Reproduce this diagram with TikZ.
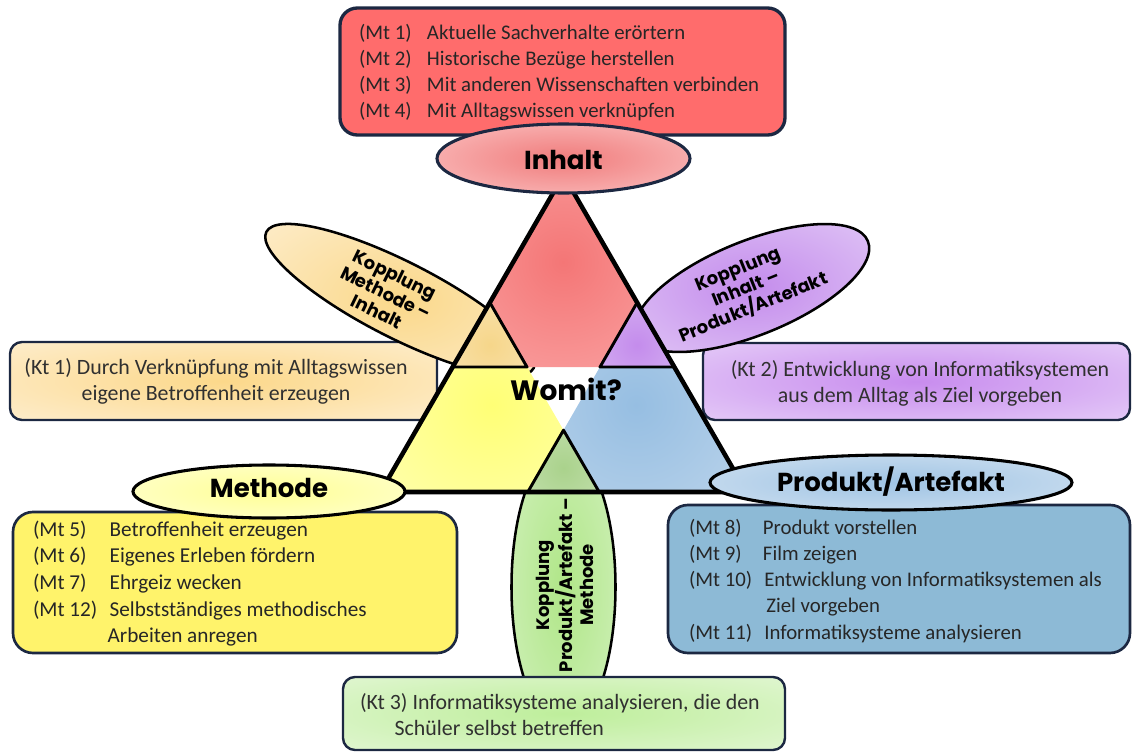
\documentclass[tikz,border=0pt]{standalone}
\usepackage{fontspec}
\setmainfont{Carlito}
\newfontfamily\headfont{Poppins}
\usetikzlibrary{shapes.geometric}

% outlines and text
\definecolor{navy}{RGB}{28,40,66}
\definecolor{bodytext}{RGB}{38,38,38}
\definecolor{ktgray}{RGB}{48,48,48}
% list boxes
\definecolor{redbox}{RGB}{255,108,108}
\definecolor{yellowbox}{RGB}{255,243,107}
\definecolor{bluebox}{RGB}{141,186,214}
% triangle parts
\definecolor{triRedIn}{RGB}{244,118,118}
\definecolor{triRedOut}{RGB}{255,196,196}
\definecolor{triYelIn}{RGB}{255,255,118}
\definecolor{triYelOut}{RGB}{255,255,214}
\definecolor{triBluIn}{RGB}{150,190,226}
\definecolor{triBluOut}{RGB}{214,228,241}
\definecolor{triOraIn}{RGB}{246,214,138}
\definecolor{triOraOut}{RGB}{251,236,205}
\definecolor{triPurIn}{RGB}{196,140,236}
\definecolor{triPurOut}{RGB}{226,204,246}
\definecolor{triGrnIn}{RGB}{170,210,140}
\definecolor{triGrnOut}{RGB}{216,236,202}
% ovals
\definecolor{ovRedIn}{RGB}{240,124,124}
\definecolor{ovRedOut}{RGB}{255,220,220}
\definecolor{ovYelIn}{RGB}{255,255,150}
\definecolor{ovYelOut}{RGB}{255,255,232}
\definecolor{ovBluIn}{RGB}{160,196,228}
\definecolor{ovBluOut}{RGB}{226,236,246}
\definecolor{ovOraIn}{RGB}{250,216,138}
\definecolor{ovOraOut}{RGB}{255,246,232}
\definecolor{ovPurIn}{RGB}{196,140,236}
\definecolor{ovPurOut}{RGB}{236,222,250}
\definecolor{ovGrnIn}{RGB}{176,230,136}
\definecolor{ovGrnOut}{RGB}{222,245,208}
% coupling text boxes
\definecolor{ktOraIn}{RGB}{252,216,138}
\definecolor{ktOraOut}{RGB}{254,245,230}
\definecolor{ktPurIn}{RGB}{200,140,238}
\definecolor{ktPurOut}{RGB}{239,226,251}
\definecolor{ktGrnIn}{RGB}{190,238,155}
\definecolor{ktGrnOut}{RGB}{237,249,229}

% radial glow that reaches its outer colour at the edge of the shaded path
\newcommand\glow[3]{\pgfdeclareradialshading{#1}{\pgfpointorigin}%
  {color(0bp)=(#2); color(50bp)=(#3); color(72bp)=(#3)}}
\glow{gTriRed}{triRedIn}{triRedOut}
\glow{gTriYel}{triYelIn}{triYelOut}
\glow{gTriBlu}{triBluIn}{triBluOut}
\glow{gTriOra}{triOraIn}{triOraOut}
\glow{gTriPur}{triPurIn}{triPurOut}
\glow{gTriGrn}{triGrnIn}{triGrnOut}
\glow{gOvRed}{ovRedIn}{ovRedOut}
\glow{gOvYel}{ovYelIn}{ovYelOut}
\glow{gOvBlu}{ovBluIn}{ovBluOut}
\glow{gOvOra}{ovOraIn}{ovOraOut}
\glow{gOvPur}{ovPurIn}{ovPurOut}
\glow{gOvGrn}{ovGrnIn}{ovGrnOut}
\glow{gKtOra}{ktOraIn}{ktOraOut}
\glow{gKtPur}{ktPurIn}{ktPurOut}
\glow{gKtGrn}{ktGrnIn}{ktGrnOut}

\newcommand\lab[2]{\makebox[#1][l]{#2}}

\begin{document}
\begin{tikzpicture}[x=0.75pt,y=-0.75pt,
  every node/.style={inner sep=0pt, outer sep=0pt},
  listbox/.style={rectangle, draw=navy, line width=2pt, rounded corners=15pt},
  glowbox/.style={rectangle, draw=navy, line width=1.8pt, rounded corners=9pt, shade, shading=#1},
  oval/.style={ellipse, draw=black, line width=2.3pt, shade, shading=#1},
  couple/.style={ellipse, draw=black, line width=1.9pt, shade, shading=#1},
  headlabel/.style={font=\headfont\bfseries\fontsize{19.5}{22}\selectfont, text=black},
  couptext/.style={font=\headfont\bfseries\fontsize{13.5}{15.5}\selectfont, align=center, text=black},
  listtext/.style={font=\fontsize{15.6}{19.7}\selectfont, text=bodytext, anchor=base west},
  kttext/.style={font=\fontsize{16.4}{20}\selectfont, text=ktgray},
  thinedge/.style={draw=black, line width=2.2pt, line join=round},
]
\useasboundingbox (0,0) rectangle (1133,753);

% ---- boxes for the couplings Methode-Inhalt and Inhalt-Produkt
\node[glowbox=gKtOra, minimum width=320.25pt, minimum height=58.5pt] (kt1) at (223.5,381) {};
\node[kttext, anchor=base] (kt1T) at (216,374) {\begin{tabular}[t]{@{}c@{}}
  (Kt 1) Durch Verknüpfung mit Alltagswissen\\
  eigene Betroffenheit erzeugen\end{tabular}};
\node[glowbox=gKtPur, minimum width=320.25pt, minimum height=57.75pt] (kt2) at (916.5,381.5) {};
\node[kttext, anchor=base] (kt2T) at (920,376) {\begin{tabular}[t]{@{}c@{}}
  (Kt 2) Entwicklung von Informatiksystemen\\
  aus dem Alltag als Ziel vorgeben\end{tabular}};

% ---- coupling ovals (behind the triangle)
\node[couple=gOvOra, rotate=-27, minimum width=225pt, minimum height=57pt] (cplMI) at (400,300) {};
\node[couptext, rotate=-26] (cplMIT) at (386,293) {Kopplung\\Methode –\\Inhalt};
\node[couple=gOvPur, rotate=22, minimum width=187.5pt, minimum height=70.5pt] (cplIP) at (752,288) {};
\node[couptext, rotate=22] (cplIPT) at (746,289) {Kopplung\\Inhalt –\\Produkt/Artefakt};
\node[couple=gOvGrn, minimum width=78pt, minimum height=210pt] (cplPM) at (563.5,587) {};
\node[couptext, rotate=90] (cplPMT) at (565,585) {Kopplung\\Produkt/Artefakt –\\Methode};

% ---- the triangle
\coordinate (A)  at (563.5,175);
\coordinate (BL) at (380.5,492);
\coordinate (BR) at (746.5,492);
\coordinate (P1) at (452.7,367);
\coordinate (P2) at (674.3,367);
\coordinate (Q1) at (489.9,302.6);
\coordinate (Q2) at (599.2,492);
\coordinate (R1) at (637.1,302.6);
\coordinate (R2) at (527.8,492);
\coordinate (O3) at (527.0,367);
\coordinate (U3) at (600.0,367);
\coordinate (G1) at (563.5,430.2);

\begin{scope}
  \clip (A) -- (P1) -- (P2) -- cycle;
  \shade[shading=gTriRed] (433,132) rectangle (693,392);
\end{scope}
\begin{scope}
  \clip (BL) -- (Q1) -- (Q2) -- cycle;
  \shade[shading=gTriYel] (362,275) rectangle (622,535);
\end{scope}
\begin{scope}
  \clip (BR) -- (R1) -- (R2) -- cycle;
  \shade[shading=gTriBlu] (506,275) rectangle (766,535);
\end{scope}
\begin{scope}
  \clip (Q1) -- (P1) -- (O3) -- cycle;
  \shade[shading=gTriOra] (440,295) rectangle (540,395);
\end{scope}
\begin{scope}
  \clip (R1) -- (U3) -- (P2) -- cycle;
  \shade[shading=gTriPur] (587,295) rectangle (687,395);
\end{scope}
\begin{scope}
  \clip (G1) -- (R2) -- (Q2) -- cycle;
  \shade[shading=gTriGrn] (513.5,418) rectangle (613.5,518);
\end{scope}
\draw[thinedge] (Q1) -- (P1) -- (O3) -- cycle;
\draw[thinedge] (R1) -- (U3) -- (P2) -- cycle;
\draw[thinedge] (G1) -- (R2) -- (Q2) -- cycle;
\draw[line width=3.4pt, line join=miter] (A) -- (BL) -- (BR) -- cycle;

\node[headlabel, font=\headfont\bfseries\fontsize{21}{24}\selectfont] (womit) at (566,389) {Womit?};

% ---- box for the coupling Produkt/Artefakt-Methode
\node[glowbox=gKtGrn, minimum width=331.5pt, minimum height=54.75pt] (kt3) at (564,713.5) {};
\node[kttext, anchor=base west] (kt3T) at (360,709) {\begin{tabular}[t]{@{}l@{}}
  (Kt 3) Informatiksysteme analysieren, die den\\
  \hspace*{26pt}Schüler selbst betreffen\end{tabular}};

% ---- list boxes of the three corners
\node[listbox, line width=2.5pt, rounded corners=13pt, fill=redbox,
      minimum width=333.75pt, minimum height=95.25pt] (boxInhalt) at (562.5,71.5) {};
\node[listtext] (listInhalt) at (359,39) {\begin{tabular}[t]{@{}l@{}}
  \lab{51pt}{(Mt 1)}Aktuelle Sachverhalte erörtern\\
  \lab{51pt}{(Mt 2)}Historische Bezüge herstellen\\
  \lab{51pt}{(Mt 3)}Mit anderen Wissenschaften verbinden\\
  \lab{51pt}{(Mt 4)}Mit Alltagswissen verknüpfen\end{tabular}};

\node[listbox, fill=yellowbox,
      minimum width=333pt, minimum height=105.75pt] (boxMethode) at (235,582.5) {};
\node[listtext, font=\fontsize{15.9}{20}\selectfont] (listMethode) at (33,536) {\begin{tabular}[t]{@{}l@{}}
  \lab{57.5pt}{(Mt 5)}Betroffenheit erzeugen\\
  \lab{57.5pt}{(Mt 6)}Eigenes Erleben fördern\\
  \lab{57.5pt}{(Mt 7)}Ehrgeiz wecken\\
  \lab{57.5pt}{(Mt 12)}Selbstständiges methodisches\\
  \lab{56pt}{}Arbeiten anregen\end{tabular}};

\node[listbox, fill=bluebox,
      minimum width=346.5pt, minimum height=111pt] (boxProdukt) at (899,579) {};
\node[listtext] (listProdukt) at (689,534) {\begin{tabular}[t]{@{}l@{}}
  \lab{55.5pt}{(Mt 8)}Produkt vorstellen\\
  \lab{55.5pt}{(Mt 9)}Film zeigen\\
  \lab{56.5pt}{(Mt 10)}Entwicklung von Informatiksystemen als\\
  \lab{58pt}{}Ziel vorgeben\\
  \lab{56.5pt}{(Mt 11)}Informatiksysteme analysieren\end{tabular}};

% ---- corner ovals
\node[oval=gOvRed, draw=navy, minimum width=189.75pt, minimum height=51.75pt] (inhalt) at (563.5,158.5) {};
\node[headlabel] (inhaltT) at (563.5,160) {Inhalt};
\node[oval=gOvYel, minimum width=204pt, minimum height=39.75pt] (methode) at (269,491.5) {};
\node[headlabel] (methodeT) at (269,488) {Methode};
\node[oval=gOvBlu, minimum width=271.5pt, minimum height=41.25pt] (produkt) at (891,482.5) {};
\node[headlabel] (produktT) at (891,482) {Produkt/Artefakt};
\end{tikzpicture}
\end{document}
